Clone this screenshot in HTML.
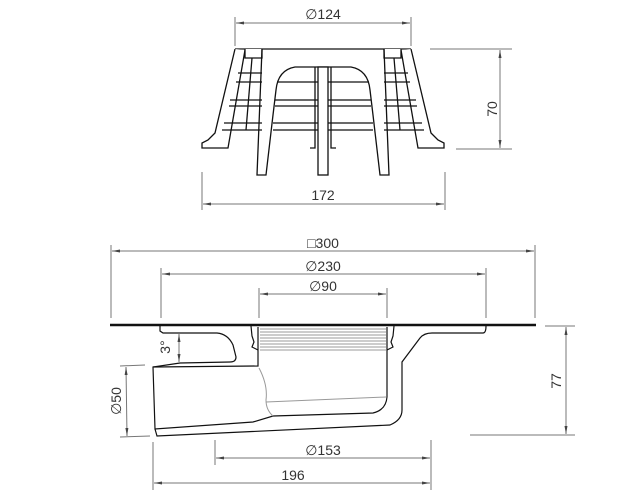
<!DOCTYPE html>
<html><head><meta charset="utf-8"><style>
html,body{margin:0;padding:0;background:#fff;}
svg{display:block;}
text{font-family:"Liberation Sans",sans-serif;font-size:14px;fill:#333;}
</style></head><body>
<svg width="620" height="500" viewBox="0 0 620 500" xmlns="http://www.w3.org/2000/svg">
<defs>
<marker id="a" markerWidth="8" markerHeight="4" refX="8" refY="2" orient="auto-start-reverse" markerUnits="userSpaceOnUse"><path d="M0,0.5 L8,2 L0,3.5z" fill="#444"/></marker>
</defs>
<g stroke="#777" stroke-width="1" fill="none">
<line x1="235" y1="17" x2="235" y2="46"/><line x1="411" y1="17" x2="411" y2="46"/>
<line x1="236" y1="23" x2="410" y2="23" marker-start="url(#a)" marker-end="url(#a)"/>
<line x1="430" y1="49" x2="512" y2="49"/><line x1="456" y1="149" x2="512" y2="149"/>
<line x1="500" y1="50" x2="500" y2="148" marker-start="url(#a)" marker-end="url(#a)"/>
<line x1="202" y1="172" x2="202" y2="210"/><line x1="445" y1="172" x2="445" y2="210"/>
<line x1="203" y1="204" x2="444" y2="204" marker-start="url(#a)" marker-end="url(#a)"/>
<line x1="111" y1="245" x2="111" y2="318"/><line x1="535" y1="245" x2="535" y2="318"/>
<line x1="112" y1="251" x2="534" y2="251" marker-start="url(#a)" marker-end="url(#a)"/>
<line x1="161" y1="268" x2="161" y2="318"/><line x1="486" y1="268" x2="486" y2="318"/>
<line x1="162" y1="274" x2="485" y2="274" marker-start="url(#a)" marker-end="url(#a)"/>
<line x1="259" y1="288" x2="259" y2="318"/><line x1="387" y1="288" x2="387" y2="318"/>
<line x1="260" y1="294" x2="386" y2="294" marker-start="url(#a)" marker-end="url(#a)"/>
<line x1="545" y1="326" x2="575" y2="326"/><line x1="470" y1="435" x2="575" y2="435"/>
<line x1="566" y1="327" x2="566" y2="434" marker-start="url(#a)" marker-end="url(#a)"/>
<line x1="179" y1="334" x2="179" y2="362" marker-start="url(#a)" marker-end="url(#a)"/>
<line x1="120" y1="366" x2="145" y2="365"/><line x1="120" y1="437" x2="150" y2="436"/>
<line x1="126" y1="367" x2="127" y2="436" marker-start="url(#a)" marker-end="url(#a)"/>
<line x1="215" y1="440" x2="215" y2="465"/><line x1="431" y1="440" x2="431" y2="490"/>
<line x1="153" y1="442" x2="153" y2="490"/>
<line x1="216" y1="458" x2="430" y2="458" marker-start="url(#a)" marker-end="url(#a)"/>
<line x1="154" y1="483" x2="430" y2="483" marker-start="url(#a)" marker-end="url(#a)"/>
</g>
<g>
<text x="323" y="19" text-anchor="middle">∅124</text>
<text x="323" y="200" text-anchor="middle">172</text>
<text transform="translate(497,109) rotate(-90)" text-anchor="middle">70</text>
<text x="323" y="248" text-anchor="middle">□300</text>
<text x="323" y="271" text-anchor="middle">∅230</text>
<text x="323" y="291" text-anchor="middle">∅90</text>
<text transform="translate(561,381) rotate(-90)" text-anchor="middle">77</text>
<text transform="translate(170,347) rotate(-90)" text-anchor="middle">3°</text>
<text transform="translate(121,401) rotate(-90)" text-anchor="middle">∅50</text>
<text x="323" y="455" text-anchor="middle">∅153</text>
<text x="293" y="480" text-anchor="middle">196</text>
</g>
<g stroke="#111" stroke-width="1.3" fill="#fff">
<line x1="235" y1="49" x2="411" y2="49"/>
<path d="M235,49 L215,133 L208,140 L202,143 L202,148 L228,148 L245,50"/>
<path d="M411,49 L431,133 L438,140 L444,143 L444,148 L418,148 L401,50"/>
<path d="M245,49 L245,58 L262,58 L262,49"/><path d="M401,49 L401,58 L384,58 L384,49"/>
<g fill="none">
<line x1="238" y1="73" x2="262" y2="73"/><line x1="236" y1="82" x2="262" y2="82"/>
<line x1="230" y1="100" x2="262" y2="100"/><line x1="229" y1="106" x2="262" y2="106"/>
<line x1="224" y1="123" x2="262" y2="123"/><line x1="222" y1="130" x2="262" y2="130"/>
<line x1="384" y1="73" x2="408" y2="73"/><line x1="384" y1="82" x2="410" y2="82"/>
<line x1="384" y1="100" x2="416" y2="100"/><line x1="384" y1="106" x2="417" y2="106"/>
<line x1="384" y1="123" x2="422" y2="123"/><line x1="384" y1="130" x2="424" y2="130"/>
<line x1="277" y1="82" x2="369" y2="82"/><line x1="275" y1="100" x2="371" y2="100"/>
<line x1="275" y1="106" x2="371" y2="106"/><line x1="273" y1="123" x2="373" y2="123"/>
<line x1="273" y1="130" x2="373" y2="130"/>
<line x1="252" y1="58" x2="246" y2="130"/><line x1="394" y1="58" x2="400" y2="130"/>
</g>
<path d="M262,49 L257,175 L266,175 L273,115 L276,90 Q278,70 295,67 L351,67 Q368,70 370,90 L373,115 L380,175 L389,175 L384,49" fill="none"/>
<path d="M315,67 L315,148 L310,148" fill="none"/><path d="M331,67 L331,148 L336,148" fill="none"/>
<rect x="318" y="67" width="10" height="108"/>
</g>
<g stroke="#111" stroke-width="1.2" fill="none">
<line x1="110" y1="325" x2="536" y2="325" stroke-width="2.4"/>
<path d="M160,326 L160,331 L163,333 L217,333 Q228,334 233,345 L236,357 Q236,362 230,362 L180,363 L153,367 L155,429 L253,422 L273,416 L373,413 Q386,410 387,397 L387,327"/>
<path d="M153,367 L258,366 L258,327"/>
<path d="M155,429 L157,436 L390,425 Q402,420 402,410 L402,362 L420,338 Q424,333 432,333 L483,333 Q486,333 486,326"/>
<path d="M251,326 L252,336 L254,342 L252,347 L258,350"/>
<path d="M394,326 L393,336 L391,342 L393,347 L387,350"/>
</g>
<g stroke="#999" stroke-width="1" fill="none">
<line x1="260" y1="329" x2="386" y2="329"/><line x1="260" y1="332" x2="386" y2="332"/>
<line x1="260" y1="335" x2="386" y2="335"/><line x1="260" y1="338" x2="386" y2="338"/>
<line x1="260" y1="341" x2="386" y2="341"/><line x1="260" y1="344" x2="386" y2="344"/>
<line x1="260" y1="347" x2="386" y2="347"/><line x1="260" y1="350" x2="386" y2="350"/>
<path d="M259,368 Q268,385 266,400 Q266,410 273,416"/>
<line x1="266" y1="402" x2="386" y2="397"/>
</g>
</svg>
</body></html>
